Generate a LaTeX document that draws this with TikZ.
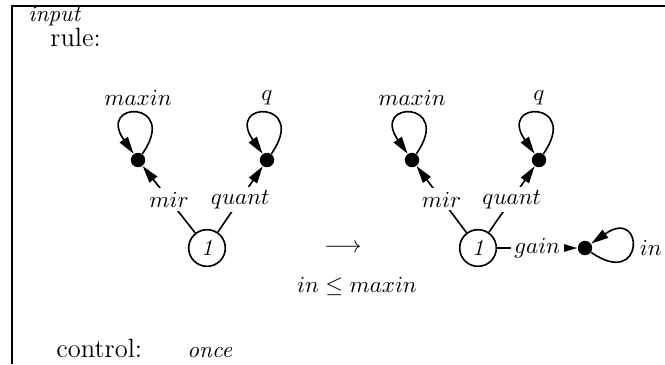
\documentclass[tikz,border=0pt]{standalone}
\usepackage{amsmath,amssymb}
\usetikzlibrary{positioning, arrows.meta}

\begin{document}
\begin{tikzpicture}[
    x=0.01528cm, y=-0.01528cm,
    >={Triangle[length=7.5pt,width=4.2pt]},
    every node/.style={font=\normalsize},
    rulenode/.style={circle, draw, line width=0.7pt, inner sep=0pt, minimum size=5.6mm, font=\itshape},
    port/.style={circle, fill, inner sep=0pt, minimum size=2.2mm},
    lbl/.style={inner sep=1.5pt, fill=white},
    arrow/.style={->, line width=0.7pt},
    selfloop/.style={->, line width=0.7pt, min distance=10mm},
    heading/.style={anchor=base west, inner sep=0pt},
    roman/.style={font=\fontsize{11.5}{14}\selectfont},
]
\useasboundingbox (0,0) rectangle (665,364);

% ── Frame ──
\draw[line width=1pt] (12,364) -- (12,6) -- (665,6);

% ── Headings ──
\node[heading, font=\itshape] (input) at (28,21) {input};
\node[heading, roman] (rule) at (50,46) {rule:};
\node[heading, roman] (control) at (56,357) {control:};
\node[heading, font=\itshape] (once) at (187,357) {once};

% ── Left-hand side ──
\node[rulenode] (oneL) at (207,248) {1};
\node[port] (maxinL) at (138,160) {};
\node[port] (qL) at (267,160) {};

% ── Right-hand side ──
\node[rulenode] (oneR) at (478,248) {1};
\node[port] (maxinR) at (412,160) {};
\node[port] (qR) at (539,160) {};
\node[port] (inR) at (585,248) {};

% ── Rewrite arrow and condition ──
\node (rewrite) at (343,248) {$\longrightarrow$};
\node (cond) at (357,286) {$in \leq maxin$};

% ── Edges, left ──
\draw[arrow] (oneL) -- node[lbl] {$mir$} (maxinL);
\draw[arrow] (oneL) -- node[lbl] {$quant$} (qL);
\draw[selfloop] (maxinL) to[out=55, in=125] node[above] {$maxin$} (maxinL);
\draw[selfloop] (qL) to[out=55, in=125] node[above] {$q$} (qL);

% ── Edges, right ──
\draw[arrow] (oneR) -- node[lbl] {$mir$} (maxinR);
\draw[arrow] (oneR) -- node[lbl] {$quant$} (qR);
\draw[arrow] (oneR) -- node[lbl] {$gain$} (inR);
\draw[selfloop] (maxinR) to[out=55, in=125] node[above] {$maxin$} (maxinR);
\draw[selfloop] (qR) to[out=55, in=125] node[above] {$q$} (qR);
\draw[selfloop] (inR) to[out=-35, in=35] node[right] {$in$} (inR);

\end{tikzpicture}
\end{document}
